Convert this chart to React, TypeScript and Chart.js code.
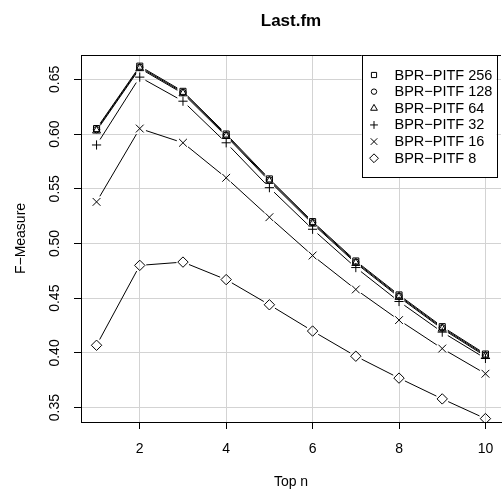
import React, { useEffect, useRef } from 'react';
import { Chart, registerables } from 'chart.js';
import { drawPoint } from 'chart.js/helpers';

Chart.register(...registerables);

const FONT = '"Liberation Sans", Arial, Helvetica, sans-serif';

const topN = [1, 2, 3, 4, 5, 6, 7, 8, 9, 10];
const seriesNames = ['BPR−PITF 256', 'BPR−PITF 128', 'BPR−PITF 64', 'BPR−PITF 32', 'BPR−PITF 16', 'BPR−PITF 8'];
const f256 = [0.605, 0.662, 0.639, 0.600, 0.559, 0.520, 0.484, 0.453, 0.424, 0.399];
const f128 = [0.604, 0.661, 0.638, 0.599, 0.558, 0.519, 0.483, 0.452, 0.423, 0.398];
const f64 = [0.603, 0.660, 0.637, 0.598, 0.557, 0.518, 0.482, 0.451, 0.422, 0.397];
const f32 = [0.590, 0.652, 0.630, 0.592, 0.551, 0.513, 0.478, 0.447, 0.419, 0.395];
const f16 = [0.538, 0.605, 0.592, 0.560, 0.524, 0.489, 0.458, 0.430, 0.404, 0.381];
const f8 = [0.407, 0.480, 0.483, 0.467, 0.444, 0.420, 0.397, 0.377, 0.358, 0.340];
const seriesValues = [f256, f128, f64, f32, f16, f8];
const pointStyles = ['rect', 'circle', 'triangle', 'cross', 'crossRot', 'rectRot'];
const pointRadii = [4.3, 3.2, 4.6, 4.6, 5.5, 5.2];
const xTicks = [2, 4, 6, 8, 10];
const yTicks = [0.35, 0.40, 0.45, 0.50, 0.55, 0.60, 0.65];

const gapLines = {
  id: 'gapLines',
  beforeDatasetsDraw(chart: any) {
    const { ctx, chartArea } = chart;
    const gap = 6.5;
    ctx.save();
    ctx.beginPath();
    ctx.rect(chartArea.left, chartArea.top, chartArea.right - chartArea.left, chartArea.bottom - chartArea.top);
    ctx.clip();
    ctx.strokeStyle = '#000';
    ctx.lineWidth = 1;
    chart.data.datasets.forEach((_: any, di: number) => {
      const meta = chart.getDatasetMeta(di);
      const pts = meta.data;
      for (let i = 0; i < pts.length - 1; i++) {
        const a = pts[i], b = pts[i + 1];
        const dx = b.x - a.x, dy = b.y - a.y;
        const len = Math.hypot(dx, dy);
        if (len <= 2 * gap) continue;
        const ux = dx / len, uy = dy / len;
        ctx.beginPath();
        ctx.moveTo(a.x + ux * gap, a.y + uy * gap);
        ctx.lineTo(b.x - ux * gap, b.y - uy * gap);
        ctx.stroke();
      }
    });
    ctx.restore();
  },
};

const frameAndLegend = {
  id: 'frameAndLegend',
  afterDraw(chart: any) {
    const { ctx, chartArea } = chart;
    ctx.save();
    ctx.strokeStyle = '#000';
    ctx.lineWidth = 1;
    ctx.beginPath();
    ctx.moveTo(chartArea.left, Math.round(chartArea.top) + 0.5);
    ctx.lineTo(chartArea.right, Math.round(chartArea.top) + 0.5);
    ctx.stroke();

    // legend box (top-right inside plot)
    const boxRight = chartArea.right - 4.5;
    const boxLeft = boxRight - 135;
    const boxTop = Math.round(chartArea.top) + 0.5;
    const rowH = 16.65;
    const boxBottom = boxTop + 121.5;
    ctx.fillStyle = '#fff';
    ctx.fillRect(boxLeft, boxTop, boxRight - boxLeft, boxBottom - boxTop);
    ctx.strokeRect(Math.round(boxLeft) + 0.5, boxTop, Math.round(boxRight - boxLeft), Math.round(boxBottom - boxTop));
    ctx.font = `14.5px ${FONT}`;
    ctx.textBaseline = 'middle';
    ctx.textAlign = 'left';
    seriesNames.forEach((name, i) => {
      const y = boxTop + 19.5 + i * rowH;
      ctx.fillStyle = 'rgba(0,0,0,0)';
      ctx.strokeStyle = '#000';
      ctx.lineWidth = 1;
      drawPoint(ctx, { pointStyle: pointStyles[i], radius: pointRadii[i] * 0.85, rotation: 0, borderWidth: 1 } as any, boxLeft + 12.5, y);
      ctx.fillStyle = '#000';
      ctx.fillText(name, boxLeft + 33, y + 0.5);
    });
    ctx.restore();
  },
};

export default function App() {
  const ref = useRef<HTMLCanvasElement | null>(null);
  useEffect(() => {
    if (!ref.current) return;
    const datasets = seriesValues.map((vals, i) => ({
      label: seriesNames[i],
      data: topN.map((x, j) => ({ x, y: vals[j] })),
      showLine: false,
      borderColor: '#000',
      backgroundColor: 'rgba(0,0,0,0)',
      pointStyle: pointStyles[i],
      pointRadius: pointRadii[i],
      pointBorderWidth: 1,
      pointBorderColor: '#000',
      pointBackgroundColor: 'rgba(0,0,0,0)',
    }));
    const chart = new Chart(ref.current, {
      type: 'line',
      data: { datasets } as any,
      options: {
        responsive: false,
        animation: false,
        devicePixelRatio: 1,
        layout: { autoPadding: false, padding: { left: 0, right: 1, top: 0, bottom: 0 } },
        plugins: {
          legend: { display: false },
          tooltip: { enabled: false },
          title: {
            display: true,
            text: 'Last.fm',
            fullSize: false,
            color: '#000',
            font: { family: FONT, size: 17, weight: 'bold' },
            padding: { top: 11, bottom: 23.6 },
          },
        },
        scales: {
          x: {
            type: 'linear',
            min: 0.64,
            max: 10.36,
            afterBuildTicks: (s: any) => { s.ticks = xTicks.map((v) => ({ value: v })); },
            afterFit: (s: any) => { s.height = 71; s.paddingLeft = 0; s.paddingRight = 0; },
            grid: { color: '#d3d3d3', lineWidth: 1, tickColor: '#000', tickLength: 7, drawTicks: true },
            border: { display: true, color: '#000', width: 1 },
            ticks: {
              color: '#000',
              font: { family: FONT, size: 14 },
              padding: 12,
              maxRotation: 0,
              callback: (v: any) => String(v),
            },
            title: {
              display: true,
              text: 'Top n',
              color: '#000',
              font: { family: FONT, size: 14 },
              padding: { top: 0, bottom: 2.2 },
            },
          },
          y: {
            type: 'linear',
            min: 0.3369,
            max: 0.6722,
            afterBuildTicks: (s: any) => { s.ticks = yTicks.map((v) => ({ value: v })); },
            afterFit: (s: any) => { s.width = 81; s.paddingTop = 0; s.paddingBottom = 0; },
            grid: { color: '#d3d3d3', lineWidth: 1, tickColor: '#000', tickLength: 7, drawTicks: true },
            border: { display: true, color: '#000', width: 1 },
            ticks: {
              color: '#000',
              font: { family: FONT, size: 14 },
              padding: 5.4,
              minRotation: 90,
              maxRotation: 90,
              crossAlign: 'center',
              callback: (v: any) => Number(v).toFixed(2),
            },
            title: {
              display: true,
              text: 'F−Measure',
              color: '#000',
              font: { family: FONT, size: 14 },
              padding: { top: 12.3, bottom: 0 },
            },
          },
        },
      },
      plugins: [gapLines, frameAndLegend],
    } as any);
    return () => chart.destroy();
  }, []);
  return (
    <div style={{ position: 'absolute', left: 0, top: 0, width: 502, height: 493, background: '#fff' }}>
      <canvas ref={ref} width={502} height={493} style={{ display: 'block' }} />
    </div>
  );
}
